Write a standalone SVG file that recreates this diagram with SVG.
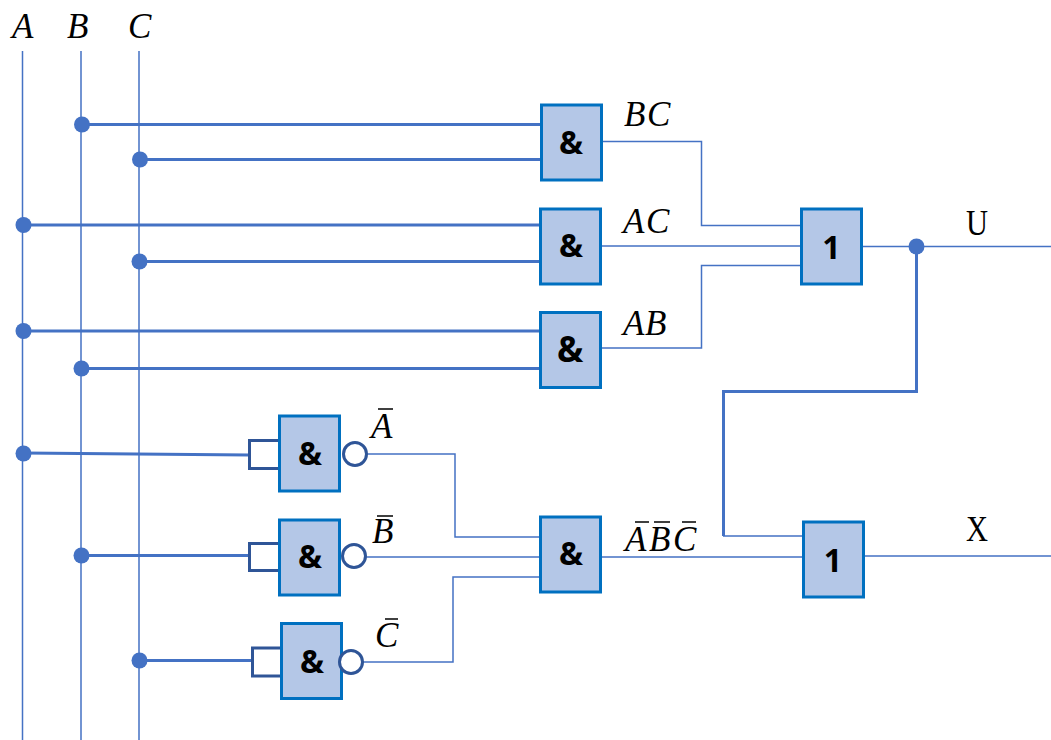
<svg xmlns="http://www.w3.org/2000/svg" width="1051" height="740" viewBox="0 0 1051 740">
<style>
.g{fill:#b4c7e7;stroke:#0070c0;stroke-width:3}
.t{font:bold 32px "Open Sans","DejaVu Sans",sans-serif;fill:#000;text-anchor:middle}
.m{font:italic 35px "Liberation Serif",serif;fill:#000}
.r{font:35px "Liberation Serif",serif;fill:#000}
.w{fill:none;stroke:#4472c4;stroke-width:1.5}
.k{fill:none;stroke:#4472c4;stroke-width:3}
.d{fill:#4472c4}
.s{fill:#fff;stroke:#2f5597;stroke-width:3}
.o{stroke:#000;stroke-width:1.5}
</style>
<g id="connectors">
<path class="w" d="M22.500 51V740M81 51V740M139 51V740"/>
<path class="k" d="M82 124.500H541M140 159.500H541M23 225H540M139 261.500H540M23 331H540M81 368.500H540M23 453L249 455M81 555.500H249M139 660.500H252M916.500 246V391.500H723.500V536"/>
<path class="w" d="M602 141.500H701.500V225.500H801M601 246H801M601 348H701.500V265.500H801M862 246.500H1051M723 536H806M367 454H455V537H543M365 557H543M363 662H453V577H543M601 557H803M861 556H1051"/>
<circle class="d" cx="82" cy="124.500" r="8"/><circle class="d" cx="140" cy="159.500" r="8"/><circle class="d" cx="23.500" cy="225" r="8"/><circle class="d" cx="139.500" cy="261.500" r="8"/><circle class="d" cx="23.500" cy="331" r="8"/><circle class="d" cx="81.500" cy="368.500" r="8"/><circle class="d" cx="23.500" cy="453.500" r="8"/><circle class="d" cx="81.500" cy="555.500" r="8"/><circle class="d" cx="139.500" cy="660.500" r="8"/><circle class="d" cx="916.500" cy="246.500" r="8"/>
</g>
<g id="and-bc"><rect class="g" x="541.500" y="105" width="60" height="75"/><text class="t" x="571" y="154">&amp;</text></g>
<g id="and-ac"><rect class="g" x="540.500" y="209" width="60" height="75"/><text class="t" x="571" y="257">&amp;</text></g>
<g id="and-ab"><rect class="g" x="540.500" y="312.500" width="60" height="75"/><text class="t" x="570" y="362" style="font-size:35px">&amp;</text></g>
<g id="or-u"><rect class="g" x="801.500" y="209" width="60" height="75"/><text class="t" x="831.500" y="259">1</text></g>
<g id="not-a"><rect class="s" x="249.500" y="440.500" width="30" height="28"/><rect class="g" x="279.500" y="416" width="60" height="75"/><circle class="s" cx="355" cy="454" r="11.500"/><text class="t" x="310" y="465">&amp;</text></g>
<g id="not-b"><rect class="s" x="249.500" y="543.500" width="30" height="27"/><rect class="g" x="279.500" y="520" width="60" height="75"/><circle class="s" cx="354" cy="556" r="11.500"/><text class="t" x="310" y="568">&amp;</text></g>
<g id="not-c"><rect class="s" x="252.500" y="648" width="30" height="28"/><rect class="g" x="281.500" y="623.500" width="60" height="75"/><circle class="s" cx="351" cy="662" r="11.500"/><text class="t" x="312" y="673">&amp;</text></g>
<g id="and-abc"><rect class="g" x="540.500" y="517" width="60" height="75"/><text class="t" x="571" y="565">&amp;</text></g>
<g id="or-x"><rect class="g" x="803.500" y="522" width="60" height="75"/><text class="t" x="833" y="572">1</text></g>
<g id="labels">
<text class="m" x="12" y="38">A</text><text class="m" x="67" y="38">B</text><text class="m" x="128" y="38">C</text>
<text class="m" x="624 647" y="126">BC</text>
<text class="m" x="623 646" y="233">AC</text>
<text class="m" x="623 645" y="335">AB</text>
<text class="r" x="966" y="235" textLength="22" lengthAdjust="spacingAndGlyphs">U</text><text class="r" x="966" y="541" textLength="22" lengthAdjust="spacingAndGlyphs">X</text>
<text class="m" x="371" y="438">A</text><path class="o" d="M378 409H393"/>
<text class="m" x="372" y="543">B</text><path class="o" d="M377 516H393"/>
<text class="m" x="375" y="647">C</text><path class="o" d="M385 619H398"/>
<text class="m" x="625 649 673" y="551">ABC</text><path class="o" d="M635 522H649M654 522H670M682 522H696"/>
</g>
</svg>
